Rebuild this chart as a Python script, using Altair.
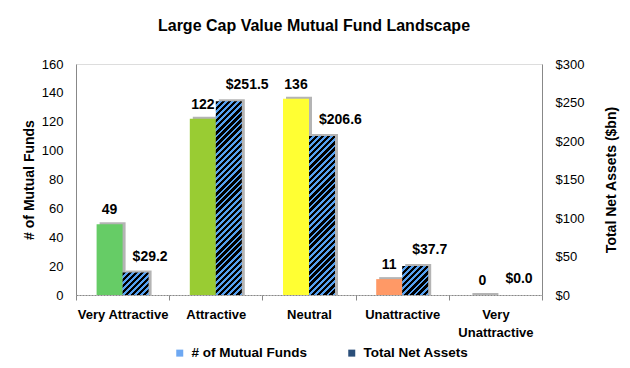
import math
import altair as alt
import pandas as pd

# ---- data ----
categories = ["Very Attractive", "Attractive", "Neutral", "Unattractive", "Very Unattractive"]
fund_counts = [49, 122, 136, 11, 0]
net_assets = [29.2, 251.5, 206.6, 37.7, 0.0]
bar_colors = ["#66CC66", "#99CC33", "#FFFF33", "#FF9966", "#C0C0C0"]
series_names = ["# of Mutual Funds", "Total Net Assets"]
left_ticks = [0, 20, 40, 60, 80, 100, 120, 140, 160]
right_ticks = [0, 50, 100, 150, 200, 250, 300]

df = pd.DataFrame({"category": categories, "count": fund_counts, "assets": net_assets})

FONT = "Liberation Sans"
W, H = 466, 231
BAR = 26
BLUE = "#55A0F0"
SHADOW = "#B4B4B4"

x_axis = alt.Axis(
    title=None, labelAngle=0, labelFont=FONT, labelFontSize=13, labelFontWeight="bold",
    labelColor="black", tickBand="extent", tickColor="#888888", tickSize=5,
    domainColor="#888888", domainDash=[2, 1], labelPadding=8, labelLineHeight=18,
    labelExpr="datum.value == 'Very Unattractive' ? ['Very', 'Unattractive'] : datum.value",
)
x_enc = alt.X("category:N", sort=categories,
              scale=alt.Scale(domain=categories, paddingInner=0, paddingOuter=0),
              axis=x_axis)

left_axis = alt.Axis(
    title="# of Mutual Funds", values=left_ticks, ticks=False, grid=False,
    labelPadding=13, domainColor="#888888", labelFont=FONT, labelFontSize=13,
    labelColor="black", titleFont=FONT, titleFontSize=14, titleFontWeight="bold",
    titleColor="black", titlePadding=5,
)
right_axis = alt.Axis(
    title="Total Net Assets ($bn)", orient="right", values=right_ticks, format="$.0f",
    ticks=False, grid=False, labelPadding=13, domainColor="#888888", labelFont=FONT,
    labelFontSize=13, labelColor="black", titleFont=FONT, titleFontSize=14,
    titleFontWeight="bold", titleColor="black", titlePadding=35, titleAngle=270,
)
y_left = alt.Y("count:Q", scale=alt.Scale(domain=[0, 160], nice=False), axis=left_axis)
y_right = alt.Y("assets:Q", scale=alt.Scale(domain=[0, 300], nice=False), axis=right_axis)

base = alt.Chart(df)

# ---- left series: number of funds ----
count_shadow = base.mark_bar(size=BAR, xOffset=-13 + 3, yOffset=-2,
                             color=SHADOW).encode(x=x_enc, y=y_left, y2=alt.datum(0))
count_bars = base.mark_bar(size=BAR, xOffset=-13).encode(
    x=x_enc, y=y_left,
    color=alt.Color("category:N", scale=alt.Scale(domain=categories, range=bar_colors),
                    legend=None),
)
count_text = base.mark_text(dx=-13, dy=-10, align="center", baseline="alphabetic",
                            font=FONT, fontSize=14, fontWeight="bold",
                            color="black").encode(x=x_enc, y=y_left, text=alt.Text("count:Q"))
left = alt.layer(count_shadow, count_bars, count_text)


# ---- right series: total net assets, striped bars ----
def stripe_fill(h, w=BAR, period=4.3, black_frac=0.55):
    if h <= 0:
        return BLUE
    c = (w + h) / (w * w + h * h)
    n = max(1, round((w + h) / (math.sqrt(2) * period)))
    stops = []
    for i in range(n):
        a, b, e = i / n, (i + black_frac) / n, (i + 1) / n
        stops += [
            alt.GradientStop(offset=a, color="#000000"),
            alt.GradientStop(offset=b, color="#000000"),
            alt.GradientStop(offset=b, color=BLUE),
            alt.GradientStop(offset=e, color=BLUE),
        ]
    return alt.LinearGradient(gradient="linear", stops=stops, x1=0, y1=0, x2=c * w, y2=c * h)


asset_shadow = (base.transform_filter(alt.datum.assets > 0)
                .mark_bar(size=BAR, xOffset=13 + 3, yOffset=-2, color=SHADOW)
                .encode(x=x_enc, y=y_right, y2=alt.datum(0)))
asset_layers = []
for cat, val in zip(categories, net_assets):
    h = val / 300 * H
    asset_layers.append(
        base.transform_filter(alt.datum.category == cat)
        .mark_bar(size=BAR, xOffset=13, fill=stripe_fill(h))
        .encode(x=x_enc, y=y_right)
    )
asset_text = base.mark_text(dx=10, dy=-12, align="left", baseline="alphabetic",
                            font=FONT, fontSize=14, fontWeight="bold",
                            color="black").encode(x=x_enc, y=y_right,
                                                  text=alt.Text("assets:Q", format="$.1f"))
right = alt.layer(asset_shadow, *asset_layers, asset_text)

# ---- legend ----
legend_df = pd.DataFrame({"series": series_names})
legend_layer = alt.Chart(legend_df).mark_square(opacity=0).encode(
    x=alt.value(0), y=alt.value(0),
    color=alt.Color("series:N",
                    scale=alt.Scale(domain=series_names, range=["#6EA8F2", "#2B4F7A"]),
                    legend=alt.Legend(
                        title=None, orient="none", direction="horizontal",
                        legendX=97, legendY=282, padding=0,
                        symbolType="square", symbolSize=49, symbolStrokeWidth=0,
                        symbolOpacity=1, labelFont=FONT, labelFontSize=13.5,
                        labelFontWeight="bold", labelColor="black", labelOffset=5,
                        columnPadding=38, labelLimit=0,
                    )),
)

chart = (
    alt.layer(left, right, legend_layer)
    .resolve_scale(y="independent", color="independent")
    .properties(
        width=W, height=H,
        title=alt.TitleParams(
            "Large Cap Value Mutual Fund Landscape", font=FONT, fontSize=16,
            fontWeight="bold", color="black", anchor="middle", frame="group",
            dx=5, offset=24,
        ),
        padding={"left": 68, "top": 56, "right": 80, "bottom": 65},
        autosize=alt.AutoSizeParams(type="none"),
        background="white",
    )
    .configure_view(stroke=None)
    .configure(font=FONT)
)

chart.save("out.html", embed_options={"renderer": "svg", "actions": False})
